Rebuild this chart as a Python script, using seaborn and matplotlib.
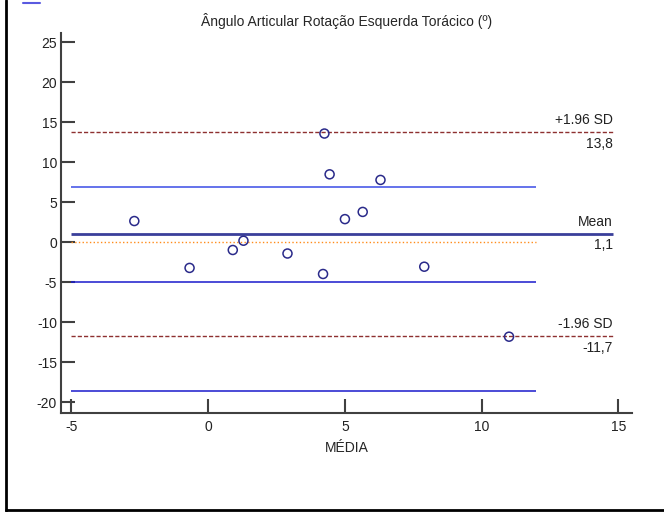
import seaborn as sns
import matplotlib.pyplot as plt
import pandas as pd
from matplotlib.lines import Line2D

# Bland-Altman data
media = [4.25, 4.44, 6.3, -2.7, 5.0, 5.65, 1.29, 0.9, 2.9, -0.68, 4.2, 7.9, 11.0]
diferenca = [13.6, 8.5, 7.8, 2.66, 2.9, 3.8, 0.2, -0.96, -1.4, -3.2, -3.96, -3.05, -11.8]

mean_diff = 1.1
upper_loa = 13.8
lower_loa = -11.7
ci_lines = [6.9, -4.9, -18.6]
mean_label = "1,1"
upper_label = "13,8"
lower_label = "-11,7"

title = "Ângulo Articular Rotação Esquerda Torácico (º)"
xlabel = "MÉDIA"

df = pd.DataFrame({"media": media, "dif": diferenca})

sns.set_theme(style="white")
plt.rcParams["font.family"] = ["Liberation Sans", "DejaVu Sans"]
plt.rcParams["axes.unicode_minus"] = False

fs = 10

fig = plt.figure(figsize=(6.64, 5.12), dpi=100)
ax = fig.add_axes([0.0923, 0.194, 0.8597, 0.742])

# reference / CI lines
ax.hlines(0, -5, 12, colors="#ff8c1a", linestyles=":", linewidth=1)
ax.hlines(ci_lines[0], -5, 12, colors="#4a5ae8", linewidth=1.2)
ax.hlines(ci_lines[1:], -5, 12, colors="#1a1acc", linewidth=1.1)
ax.hlines([upper_loa, lower_loa], -5, 14.8, colors="#8e3030", linestyles=(0, (3, 1.5)), linewidth=1)
ax.hlines(mean_diff, -5, 14.8, colors="#3a3f9a", linewidth=2)

sns.scatterplot(data=df, x="media", y="dif", ax=ax, marker="o", s=42,
                facecolors="none", edgecolor="#2a2a8a", linewidth=1.1, zorder=5)

# labels on the right
for val, top, bot in [(upper_loa, "+1.96 SD", upper_label),
                      (mean_diff, "Mean", mean_label),
                      (lower_loa, "-1.96 SD", lower_label)]:
    ax.text(14.8, val + 0.6, top, ha="right", va="bottom", fontsize=fs, color="#222222")
    ax.text(14.8, val - 0.6, bot, ha="right", va="top", fontsize=fs, color="#222222")

ax.set_xlim(-5.37, 15.5)
ax.set_ylim(-21.3, 26.2)
ax.set_xticks([-5, 0, 5, 10, 15])
ax.set_yticks(range(-20, 30, 5))
ax.set_xlabel(xlabel, fontsize=fs, labelpad=5)
ax.set_ylabel("")
ax.set_title(title, fontsize=fs, pad=5)

for side in ["top", "right"]:
    ax.spines[side].set_visible(False)
for side in ["left", "bottom"]:
    ax.spines[side].set_color("#404040")
    ax.spines[side].set_linewidth(1.5)
ax.tick_params(axis="both", direction="in", length=10, width=1.5, color="#404040",
               labelsize=fs, labelcolor="#222222", left=True, bottom=True)
ax.tick_params(axis="x", pad=5)
ax.tick_params(axis="y", pad=3)

# page frame and small legend stub
fig.add_artist(Line2D([0.0095, 0.0095], [0.002, 1.0], color="black", linewidth=2))
fig.add_artist(Line2D([0.0095, 1.0], [0.003, 0.003], color="black", linewidth=2))
fig.add_artist(Line2D([0.034, 0.06], [0.995, 0.995], color="#5a5ae0", linewidth=1.5))

fig.savefig("out.png", dpi=100)
